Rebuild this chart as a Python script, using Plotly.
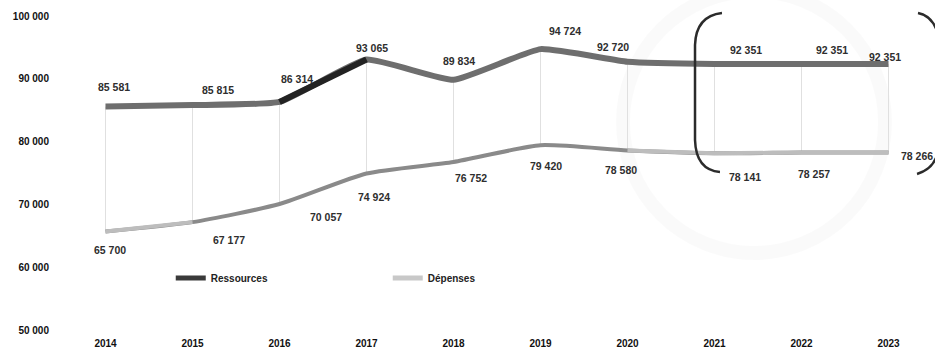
import plotly.graph_objects as go

# --- data -----------------------------------------------------------------
years = ["2014", "2015", "2016", "2017", "2018", "2019", "2020", "2021", "2022", "2023"]
ressources = [85581, 85815, 86314, 93065, 89834, 94724, 92720, 92351, 92351, 92351]
depenses = [65700, 67177, 70057, 74924, 76752, 79420, 78580, 78141, 78257, 78266]
y_ticks = [50000, 60000, 70000, 80000, 90000, 100000]

# --- label placement (pixel offsets from each point) -----------------------
res_dx = [8, 25, 17, 5, 5, 24, -15, 31, 30, -4]
res_dy = [20, 15, 23, 12, 19, 18, 15, 14, 14, 7]
dep_dx = [4, 36, 46, 7, 17, 5, -7, 30, 12, 28]
dep_dy = [-19, -18, -13, -24, -16, -21, -19, -24, -21, -4]

# --- geometry of the plotting area (pixels) ---------------------------------
W, H = 935, 355
ML, MR, MT, MB = 62, 3, 16, 25
PW, PH = W - ML - MR, H - MT - MB

LABEL_FONT = dict(family="Liberation Sans, Arial, sans-serif", size=10.5, color="#2e2e2e", weight="bold")
AXIS_FONT = dict(family="Liberation Sans, Arial, sans-serif", size=10, color="#111111", weight="bold")


def fmt(v):
    return f"{v:,}".replace(",", " ")


def px(xp, yp):
    """Pixel position -> paper coordinates."""
    return (xp - ML) / PW, (H - MB - yp) / PH


def path(points_cmds):
    out = []
    for cmd, pts in points_cmds:
        coords = " ".join(f"{px(a, b)[0]:.4f},{px(a, b)[1]:.4f}" for a, b in pts)
        out.append(f"{cmd} {coords}")
    return " ".join(out)


fig = go.Figure()

# high-low connectors between the two series
hx, hy = [], []
for yr, r, d in zip(years, ressources, depenses):
    hx += [yr, yr, None]
    hy += [r, d, None]
fig.add_trace(go.Scatter(x=hx, y=hy, mode="lines", line=dict(color="#e0e0e0", width=1),
                         hoverinfo="skip", showlegend=False))

# Dépenses: base line plus lighter stretches
fig.add_trace(go.Scatter(x=years, y=depenses, mode="lines",
                         line=dict(color="#8a8a8a", width=4, shape="spline", smoothing=0.6),
                         showlegend=False, name="Dépenses"))
for a, b in [(0, 1), (6, 9)]:
    fig.add_trace(go.Scatter(x=years[a:b + 1], y=depenses[a:b + 1], mode="lines",
                             line=dict(color="#bdbdbd", width=4), showlegend=False,
                             hoverinfo="skip"))

# Ressources: base line plus the darker 2016-2017 stretch
fig.add_trace(go.Scatter(x=years, y=ressources, mode="lines",
                         line=dict(color="#6e6e6e", width=6, shape="spline", smoothing=0.4),
                         showlegend=False, name="Ressources"))
fig.add_trace(go.Scatter(x=years[2:4], y=ressources[2:4], mode="lines",
                         line=dict(color="#222222", width=6), showlegend=False, hoverinfo="skip"))

# legend entries
fig.add_trace(go.Scatter(x=[None], y=[None], mode="lines", name="Ressources",
                         line=dict(color="#3a3a3a", width=4)))
fig.add_trace(go.Scatter(x=[None], y=[None], mode="lines", name="Dépenses",
                         line=dict(color="#c8c8c8", width=4)))

# value labels (x given as category index)
annotations = []
for i in range(len(years)):
    annotations.append(dict(x=i, y=ressources[i], xref="x", yref="y", text=fmt(ressources[i]),
                            showarrow=False, xshift=res_dx[i], yshift=res_dy[i], font=LABEL_FONT))
    annotations.append(dict(x=i, y=depenses[i], xref="x", yref="y", text=fmt(depenses[i]),
                            showarrow=False, xshift=dep_dx[i], yshift=dep_dy[i], font=LABEL_FONT))

shapes = []
# faint circular emblem in the background
cx0, cy0 = px(623, -9)
cx1, cy1 = px(885, 253)
shapes.append(dict(type="circle", xref="paper", yref="paper", x0=cx0, y0=cy1, x1=cx1, y1=cy0,
                   line=dict(color="rgba(0,0,0,0.02)", width=14), layer="below"))
# brackets around 2021-2023
bracket = dict(color="#2b2b2b", width=2.5)
shapes.append(dict(type="path", xref="paper", yref="paper", line=bracket,
                   path=path([("M", [(722, 13)]), ("Q", [(696, 16), (695, 45)]),
                              ("L", [(695, 140)]), ("Q", [(696, 170), (720, 172)])])))
shapes.append(dict(type="path", xref="paper", yref="paper", line=bracket,
                   path=path([("M", [(918, 13)]), ("Q", [(933, 16), (938, 34)])])))
shapes.append(dict(type="path", xref="paper", yref="paper", line=bracket,
                   path=path([("M", [(938, 152)]), ("Q", [(934, 169), (917, 174)])])))

fig.update_layout(
    width=W, height=H,
    margin=dict(l=ML, r=MR, t=MT, b=MB, pad=0),
    paper_bgcolor="white", plot_bgcolor="white",
    separators=", ",
    showlegend=True,
    legend=dict(orientation="h", x=0.125, y=0.166, xanchor="left", yanchor="middle",
                entrywidth=172, entrywidthmode="pixels", bgcolor="rgba(0,0,0,0)",
                font=dict(family="Liberation Sans, Arial, sans-serif",
                          size=10, color="#222222", weight="bold"),
                itemsizing="constant", tracegroupgap=0),
    xaxis=dict(type="category", range=[-0.5, 9.5], showgrid=False, zeroline=False,
               showline=False, ticks="", tickfont=AXIS_FONT, ticklabelstandoff=6,
               fixedrange=True),
    yaxis=dict(range=[50000, 100000], tickvals=y_ticks, tickformat=",d", showgrid=False,
               zeroline=False, showline=False, ticks="", tickfont=AXIS_FONT,
               ticklabelstandoff=12, fixedrange=True),
    annotations=annotations,
    shapes=shapes,
)

fig.write_html("out.html")
